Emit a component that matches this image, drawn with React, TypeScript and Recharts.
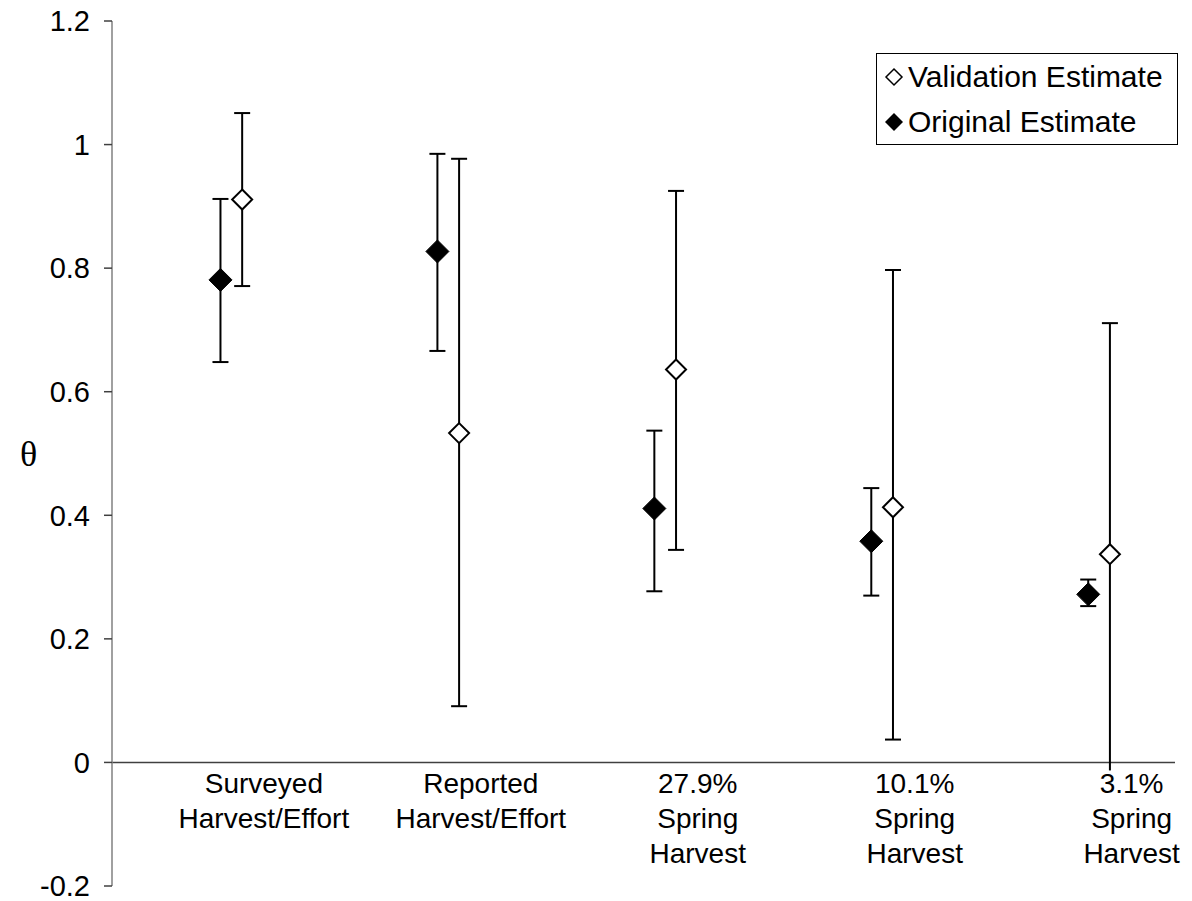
import React from "react";
import { ComposedChart, Scatter, ErrorBar, XAxis, YAxis, ReferenceLine, Legend } from "recharts";

const categoryLines = [
  ["Surveyed", "Harvest/Effort"],
  ["Reported", "Harvest/Effort"],
  ["27.9%", "Spring", "Harvest"],
  ["10.1%", "Spring", "Harvest"],
  ["3.1%", "Spring", "Harvest"],
];

// theta estimates with lower / upper interval bounds
const originalTheta = [0.781, 0.827, 0.411, 0.358, 0.272];
const originalLow = [0.648, 0.666, 0.277, 0.27, 0.253];
const originalHigh = [0.912, 0.985, 0.537, 0.444, 0.296];

const validationTheta = [0.911, 0.533, 0.636, 0.413, 0.337];
const validationLow = [0.771, 0.091, 0.344, 0.037, -0.037];
const validationHigh = [1.051, 0.977, 0.925, 0.797, 0.711];

const yTicks = [-0.2, 0, 0.2, 0.4, 0.6, 0.8, 1, 1.2];

const VALIDATION = "Validation Estimate";
const ORIGINAL = "Original Estimate";
const legendOrder = [VALIDATION, ORIGINAL];

const FONT = "'Liberation Sans', Arial, sans-serif";
const W = 1192;
const H = 901;
const MARGIN = { top: 21, right: 17, bottom: 0, left: 0 };
const X_AXIS_H = 15;
const Y_MIN = -0.2;
const Y_MAX = 1.2;

// distance from the bottom of the plot up to theta = 0, where the labels hang
const plotH = H - MARGIN.top - MARGIN.bottom - X_AXIS_H;
const zeroRise = (plotH * (0 - Y_MIN)) / (Y_MAX - Y_MIN);

const originalData = originalTheta.map((t, i) => ({
  x: i + 1,
  y: t,
  err: [t - originalLow[i], originalHigh[i] - t],
}));

const validationData = validationTheta.map((t, i) => ({
  x: i + 1.1,
  y: t,
  err: [t - validationLow[i], validationHigh[i] - t],
}));

const xTicks = categoryLines.map((_, i) => i + 1.2);

function diamondPath(cx: number, cy: number, r: number) {
  return `M${cx},${cy - r}L${cx + r},${cy}L${cx},${cy + r}L${cx - r},${cy}Z`;
}

const FilledDiamond = (props: any) => (
  <path d={diamondPath(props.cx, props.cy, 11.5)} fill="#000" stroke="#000" strokeWidth={1} />
);

const OpenDiamond = (props: any) => (
  <path d={diamondPath(props.cx, props.cy, 10)} fill="#fff" stroke="#000" strokeWidth={2} />
);

const CategoryTick = (props: any) => {
  const { x, y, payload } = props;
  const i = Math.round(payload.value - 1.2);
  const lines = categoryLines[i] || [];
  const top = y - zeroRise;
  return (
    <g>
      <rect x={x - 52} y={top + 8} width={104} height={lines.length * 35 + 6} fill="#fff" />
      <text textAnchor="middle" fill="#000" fontFamily={FONT} fontSize={28}>
        {lines.map((line: string, k: number) => (
          <tspan key={k} x={x} y={top + 31 + k * 35}>
            {line}
          </tspan>
        ))}
      </text>
    </g>
  );
};

const renderLegend = (props: any) => {
  const items = [...(props.payload || [])].sort(
    (a: any, b: any) => legendOrder.indexOf(a.value) - legendOrder.indexOf(b.value)
  );
  return (
    <div
      style={{
        width: 302,
        height: 92,
        boxSizing: "border-box",
        border: "1.5px solid #000",
        background: "#fff",
        paddingLeft: 6,
        fontFamily: FONT,
        fontSize: 30,
        color: "#000",
        whiteSpace: "nowrap",
      }}
    >
      {items.map((entry: any) => (
        <div key={entry.value} style={{ display: "flex", alignItems: "center", height: 45 }}>
          <svg width={22} height={22}>
            {entry.value === ORIGINAL ? (
              <path d={diamondPath(11, 11, 9)} fill="#000" />
            ) : (
              <path d={diamondPath(11, 11, 8)} fill="#fff" stroke="#000" strokeWidth={1.5} />
            )}
          </svg>
          <span style={{ marginLeft: 3, lineHeight: "45px" }}>{entry.value}</span>
        </div>
      ))}
    </div>
  );
};

export default function App() {
  return (
    <div style={{ position: "absolute", left: 0, top: 0, background: "#fff" }}>
      <ComposedChart width={W} height={H} margin={MARGIN}>
        <YAxis
          type="number"
          dataKey="y"
          domain={[Y_MIN, Y_MAX]}
          ticks={yTicks}
          interval={0}
          width={112}
          axisLine={{ stroke: "#808080", strokeWidth: 1.5 }}
          tickLine={{ stroke: "#404040", strokeWidth: 1.5 }}
          tickSize={8}
          tickMargin={14}
          tick={{ fill: "#000", fontSize: 29, fontFamily: FONT }}
          label={{
            value: "θ",
            position: "insideLeft",
            offset: 20,
            style: { fontFamily: "'Liberation Serif', 'Times New Roman', serif", fontSize: 36, fill: "#000" },
          }}
        />
        <ReferenceLine y={0} stroke="#404040" strokeWidth={1.5} />
        <Scatter
          name={VALIDATION}
          data={validationData}
          dataKey="y"
          shape={OpenDiamond}
          fill="#fff"
          isAnimationActive={false}
        >
          <ErrorBar dataKey="err" direction="y" width={8} stroke="#000" strokeWidth={2} />
        </Scatter>
        <Scatter
          name={ORIGINAL}
          data={originalData}
          dataKey="y"
          shape={FilledDiamond}
          fill="#000"
          isAnimationActive={false}
        >
          <ErrorBar dataKey="err" direction="y" width={8} stroke="#000" strokeWidth={2} />
        </Scatter>
        <XAxis
          type="number"
          dataKey="x"
          domain={[0.5, 5.4]}
          ticks={xTicks}
          interval={0}
          height={X_AXIS_H}
          axisLine={false}
          tickLine={false}
          tickSize={0}
          tickMargin={0}
          tick={<CategoryTick />}
        />
        <Legend
          layout="vertical"
          align="center"
          verticalAlign="middle"
          content={renderLegend}
          wrapperStyle={{ left: 876, top: 53, width: 302, height: 92 }}
        />
      </ComposedChart>
    </div>
  );
}
